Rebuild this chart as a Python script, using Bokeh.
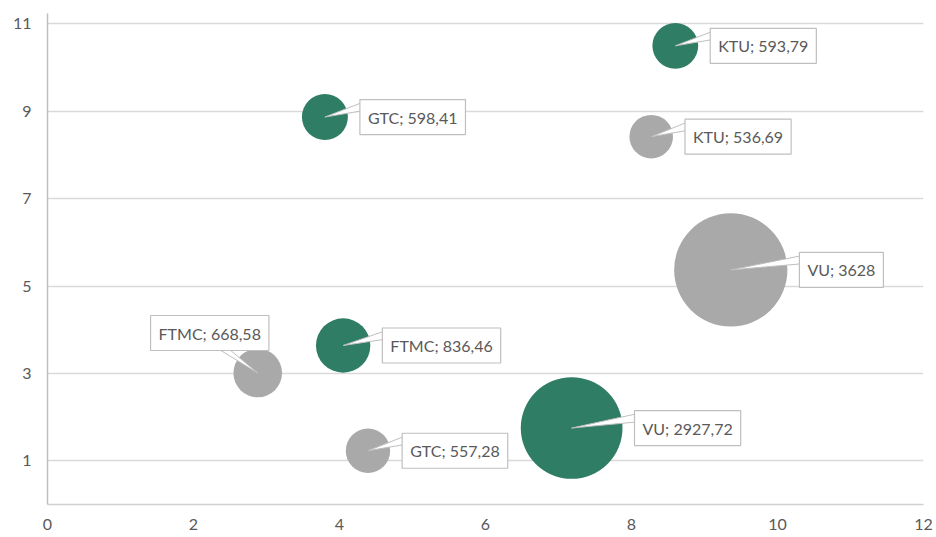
import numpy as np
from bokeh.plotting import figure
from bokeh.models import Range1d, FixedTicker, Label
from bokeh.embed import file_html
from bokeh.resources import INLINE

# ---- data ----
green_names = ["KTU", "GTC", "FTMC", "VU"]
green_x = [8.60, 3.80, 4.05, 7.18]
green_y = [10.50, 8.87, 3.64, 1.75]
green_values = [593.79, 598.41, 836.46, 2927.72]

gray_names = ["KTU", "VU", "FTMC", "GTC"]
gray_x = [8.27, 9.36, 2.88, 4.39]
gray_y = [8.42, 5.37, 3.01, 1.23]
gray_values = [536.69, 3628.0, 668.58, 557.28]

x_ticks = [0, 2, 4, 6, 8, 10, 12]
y_ticks = [1, 3, 5, 7, 9, 11]

# ---- style ----
GREEN = "#2E7D64"
GRAY = "#A9A9A9"
TEXT = "#595959"
FONT = "Lato"
FW, FH = 876, 491
X0, X1 = 0, 12
Y0, Y1 = 0, 11.24
KX = (X1 - X0) / FW
KY = (Y1 - Y0) / FH
SIZE_K = 1.88  # px diameter per sqrt(value)
GAP = 12

p = figure(frame_width=FW, frame_height=FH, x_range=Range1d(X0, X1), y_range=Range1d(Y0, Y1),
           output_backend="svg", toolbar_location=None,
           min_border_left=47, min_border_top=13, min_border_right=12, min_border_bottom=10)
p.outline_line_color = None
p.background_fill_color = "white"
p.border_fill_color = "white"

p.xgrid.grid_line_color = None
p.ygrid.grid_line_color = "#D9D9D9"
p.ygrid.grid_line_width = 1.5
p.xaxis.ticker = FixedTicker(ticks=x_ticks)
p.yaxis.ticker = FixedTicker(ticks=y_ticks)
for ax in (p.xaxis, p.yaxis):
    ax.major_tick_line_color = None
    ax.minor_tick_line_color = None
    ax.major_tick_out = 0
    ax.major_tick_in = 0
    ax.minor_tick_out = 0
    ax.major_label_text_font = FONT
    ax.major_label_text_font_size = "16px"
    ax.major_label_text_color = TEXT
p.xaxis.axis_line_color = "#D0D0D0"
p.xaxis.axis_line_width = 1.5
p.yaxis.axis_line_color = "#BFBFBF"
p.yaxis.axis_line_width = 1.5
p.xaxis.major_label_standoff = 14
p.yaxis.major_label_standoff = 16


def fmt(v):
    s = f"{v:.2f}".rstrip("0").rstrip(".")
    return s.replace(".", ",")


def add_series(names, xs, ys, vals, color, placements):
    sizes = [SIZE_K * np.sqrt(v) for v in vals]
    p.scatter(xs, ys, size=sizes, fill_color=color, line_color=None, marker="circle")
    wx, wy = [], []
    for n, x, y, v, s, pl in zip(names, xs, ys, vals, sizes, placements):
        r = s / 2
        if pl == "right":
            bx = r + GAP
            wx.append([x, x + (bx + 1) * KX, x + (bx + 1) * KX])
            wy.append([y, y + 14 * KY, y + 6 * KY])
            lab = Label(x=x, y=y, x_offset=bx, y_offset=0, text=f"{n}; {fmt(v)}",
                        text_align="left", text_baseline="middle")
        else:  # above-left
            wx.append([x, x - 41 * KX, x - 30 * KX])
            wy.append([y, y + 25 * KY, y + 25 * KY])
            lab = Label(x=x, y=y, x_offset=-48, y_offset=40, text=f"{n}; {fmt(v)}",
                        text_align="center", text_baseline="middle")
        lab.text_font = FONT
        lab.text_font_size = "16px"
        lab.text_color = TEXT
        lab.background_fill_color = "white"
        lab.border_line_color = "#BFBFBF"
        lab.border_line_width = 1.2
        lab.padding = dict(left=8, right=8, top=8, bottom=8)
        p.add_layout(lab)
    p.patches(wx, wy, fill_color="white", line_color="#BFBFBF", line_width=1)


add_series(gray_names, gray_x, gray_y, gray_values, GRAY, ["right", "right", "above-left", "right"])
add_series(green_names, green_x, green_y, green_values, GREEN, ["right", "right", "right", "right"])

open("out.html", "w").write(file_html(p, INLINE))
